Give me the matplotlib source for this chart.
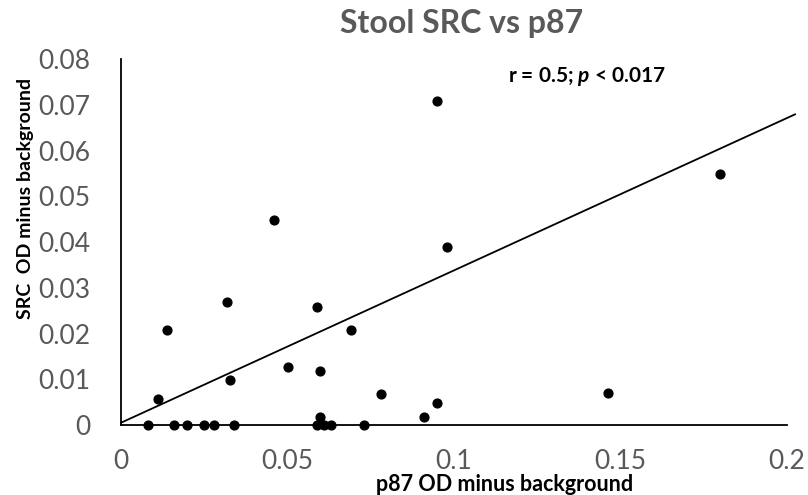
import numpy as np
import matplotlib
matplotlib.use("Agg")
import matplotlib.pyplot as plt

# p87 and SRC OD readings (background subtracted), one per stool sample
p87_od = [0.0949, 0.0458, 0.0979, 0.180, 0.1461, 0.0318, 0.0139, 0.0589, 0.0691,
          0.0500, 0.0597, 0.0328, 0.0110, 0.0781, 0.0950, 0.0910, 0.0597,
          0.0081, 0.0160, 0.0199, 0.0250, 0.0280, 0.0338, 0.0589, 0.0610,
          0.0632, 0.0729]
src_od = [0.0709, 0.0449, 0.0388, 0.0549, 0.0069, 0.0269, 0.0208, 0.0258, 0.0208,
          0.0127, 0.0118, 0.0098, 0.0057, 0.0068, 0.0048, 0.0018, 0.0018,
          0.0, 0.0, 0.0, 0.0, 0.0, 0.0, 0.0, 0.0,
          0.0, 0.0]

# linear trendline
trend_intercept = 0.0005
trend_slope = 0.333

gray = "#595959"
plt.rcParams["font.family"] = ["Lato", "DejaVu Sans"]
plt.rcParams["mathtext.fontset"] = "custom"
plt.rcParams["mathtext.it"] = "Lato:italic:bold"
plt.rcParams["mathtext.rm"] = "Lato:bold"

fig = plt.figure(figsize=(8.08, 4.95), dpi=100)
ax = fig.add_axes([0.1498, 0.1414, 0.8242, 0.7394])

ax.scatter(p87_od, src_od, s=40, color="black", zorder=3, clip_on=False)

xs = np.array([0.0, 0.2024])
ax.plot(xs, trend_intercept + trend_slope * xs, color="black", lw=1.3, clip_on=False)

ax.set_xlim(0, 0.2)
ax.set_ylim(0, 0.08)
ax.set_xticks([0, 0.05, 0.1, 0.15, 0.2])
ax.set_xticklabels(["0", "0.05", "0.1", "0.15", "0.2"])
ax.set_yticks(np.arange(0, 0.081, 0.01))
ax.set_yticklabels(["0"] + [f"{v:.2f}" for v in np.arange(0.01, 0.081, 0.01)])
ax.tick_params(length=0, labelsize=19, labelcolor=gray)
ax.tick_params(axis="y", pad=22)
ax.tick_params(axis="x", pad=17)

for side in ("top", "right"):
    ax.spines[side].set_visible(False)
for side in ("left", "bottom"):
    ax.spines[side].set_color("black")
    ax.spines[side].set_linewidth(1.3)

fig.text(0.571, 0.952, "Stool SRC vs p87", ha="center", va="center",
         fontsize=23, fontweight="bold", color=gray)
fig.text(0.624, 0.0, "p87 OD minus background", ha="center", va="bottom",
         fontsize=15.5, fontweight="bold", color="black")
fig.text(0.032, 0.6, "SRC  OD minus background", ha="center", va="center",
         rotation=90, fontsize=14, fontweight="bold", color="black")

fig.text(0.629, 0.845, r"r = 0.5; $\mathit{p}$ < 0.017", ha="left", va="center",
         fontsize=15, fontweight="bold", color="black")

fig.savefig("out.png", dpi=100)
